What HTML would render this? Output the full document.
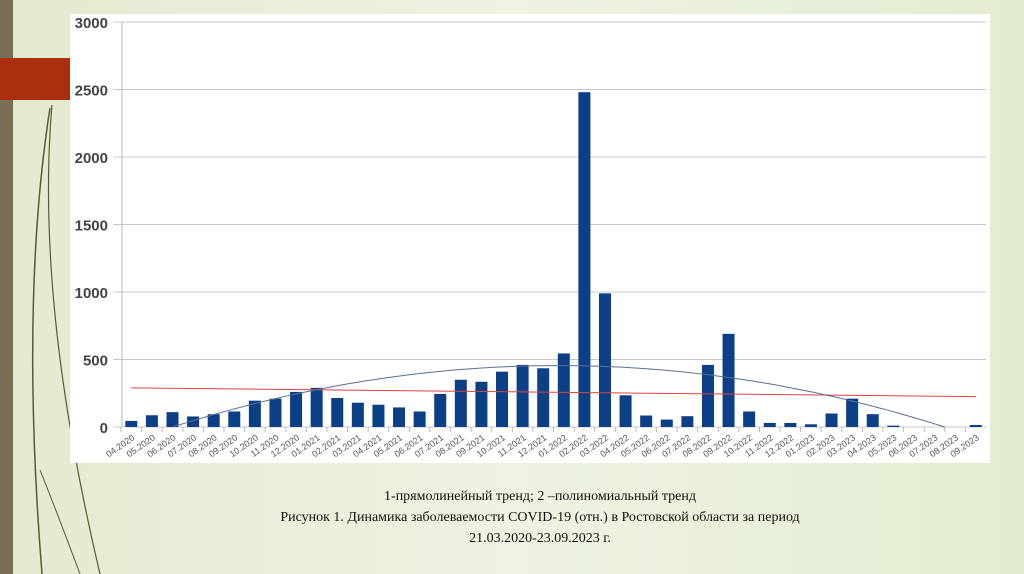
<!DOCTYPE html>
<html><head><meta charset="utf-8"><style>
html,body{margin:0;padding:0;}
body{width:1024px;height:574px;overflow:hidden;background:linear-gradient(90deg,#e3ead0 0%,#eef3e2 50%,#e3ecd2 100%);position:relative;font-family:"Liberation Sans",sans-serif;}
#bar{position:absolute;left:0;top:0;width:13px;height:574px;background:#7a6f52;}
#red{position:absolute;left:0;top:58px;width:70px;height:42px;background:#a8300f;}
#panel{position:absolute;left:70px;top:14px;width:920px;height:449px;background:#fff;}
#cap{position:absolute;left:240px;top:486px;width:600px;text-align:center;font-family:"Liberation Serif","Noto Serif CJK SC",serif;font-size:14px;line-height:21px;color:#111;}
svg{position:absolute;left:0;top:0;}
</style></head><body>
<div id="bar"></div>
<svg width="120" height="574">
<path d="M50 108 Q20 300 42 574" stroke="#5a5a30" fill="none" stroke-width="1.5"/>
<path d="M52 105 Q35 300 100 574" stroke="#5a5a30" fill="none" stroke-width="1.2"/>
<path d="M40 470 Q60 520 80 574" stroke="#5a5a30" fill="none" stroke-width="1"/>
</svg>
<div id="red"></div>
<div id="panel"></div>
<svg id="chart" width="1024" height="574"></svg>
<div id="cap">1-прямолинейный тренд; 2 –полиномиальный тренд<br>Рисунок 1. Динамика заболеваемости COVID-19 (отн.) в Ростовской области за период<br>21.03.2020-23.09.2023 г.</div>
<script>
const categories=["04.2020","05.2020","06.2020","07.2020","08.2020","09.2020","10.2020","11.2020","12.2020","01.2021","02.2021","03.2021","04.2021","05.2021","06.2021","07.2021","08.2021","09.2021","10.2021","11.2021","12.2021","01.2022","02.2022","03.2022","04.2022","05.2022","06.2022","07.2022","08.2022","09.2022","10.2022","11.2022","12.2022","01.2023","02.2023","03.2023","04.2023","05.2023","06.2023","07.2023","08.2023","09.2023"];
const values=[45,87,110,78,95,115,195,210,260,290,215,180,165,145,115,245,350,335,410,460,435,545,2480,990,235,85,55,80,460,690,115,30,30,20,100,210,95,10,0,0,0,15];
const yTicks=[0,500,1000,1500,2000,2500,3000];
const linearTrend=[290,225];
const polyRoots=[2,39.5];
const polyPeak=455;
const NS="http://www.w3.org/2000/svg";
const svg=document.getElementById('chart');
const X0=121,X1=986,Y0=427,Y1=22,YMAX=3000;
const step=(X1-X0)/categories.length;
const xc=i=>X0+step*(i+0.5);
const y=v=>Y0-(v/YMAX)*(Y0-Y1);
function mk(t,a){const e=document.createElementNS(NS,t);for(const k in a)e.setAttribute(k,a[k]);svg.appendChild(e);return e;}
yTicks.forEach(v=>{
 const g=mk('line',{x1:113,x2:X1,y1:y(v),y2:y(v),stroke:'#c8c8c8','stroke-width':1});
 
 
 const t=mk('text',{x:108,y:y(v)+6,'text-anchor':'end','font-size':15,'font-weight':'bold',fill:'#444','font-family':'Liberation Sans, sans-serif'});
 t.textContent=v;
 
 
});
const ax=mk('line',{x1:X0+1,x2:X0+1,y1:Y1,y2:Y0,stroke:'#bbb'});


values.forEach((v,i)=>{
 const r=mk('rect',{x:xc(i)-6,y:y(v),width:12,height:Y0-y(v),fill:'#0b3f86'});
 
 
});
categories.forEach((c,i)=>{
 const tk=mk('line',{x1:X0+step*i,x2:X0+step*i,y1:Y0,y2:Y0+5,stroke:'#bbb'});
 
 
 const t=mk('text',{x:xc(i)+4,y:Y0+12,'text-anchor':'end','font-size':9,fill:'#555',transform:`rotate(-35 ${xc(i)+4} ${Y0+12})`,'font-family':'Liberation Sans, sans-serif'});
 t.textContent=c;
 
 
});
const n=categories.length-1;
const lt=mk('line',{x1:xc(0),x2:xc(n),y1:y(linearTrend[0]),y2:y(linearTrend[1]),stroke:'#e04040','stroke-width':1});


const mid=(polyRoots[0]+polyRoots[1])/2,half=(polyRoots[1]-polyRoots[0])/2;
let d='';
for(let s=polyRoots[0];s<=polyRoots[1]+0.001;s+=0.25){
 const v=polyPeak*(1-((s-mid)/half)**2);
 d+=(d?'L':'M')+(X0+step*(s+0.5)).toFixed(1)+' '+y(Math.max(v,0)).toFixed(1);
}
const pt=mk('path',{d:d,stroke:'#5a6f95',fill:'none','stroke-width':1});


</script>
</body></html>
